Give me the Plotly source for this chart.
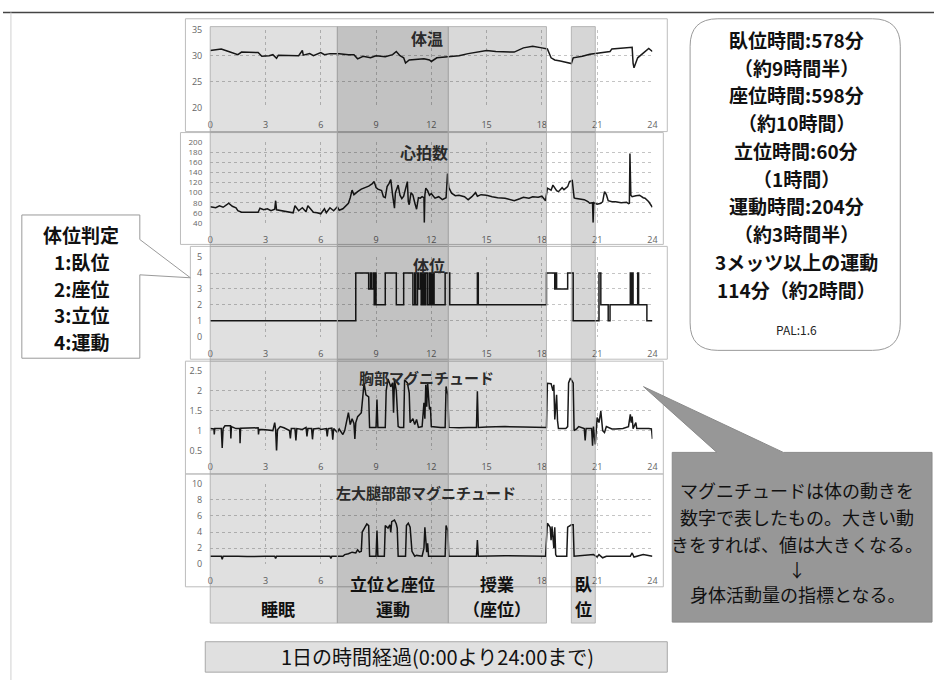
import plotly.graph_objects as go

W, H = 939, 686
JP = "Noto Sans CJK JP"

# ---------------- data (hours, value) ----------------
body_temp = [(0,31.0),(0.3,31.2),(0.6,31.3),(1.0,30.8),(1.5,30.2),(1.7,30.7),(2.2,30.7),(2.6,30.6),(2.8,29.9),
             (3.2,30.0),(3.4,30.2),(3.6,29.5),(3.7,30.1),(4.2,30.0),(4.8,30.0),(5.0,31.0),(5.05,30.1),(5.4,30.4),
             (5.6,30.0),(6.0,30.6),(6.2,30.2),(6.5,30.4),(7.0,30.4),(7.5,30.2),(7.8,30.2),(8.0,29.4),(8.3,29.9),
             (8.7,29.6),(9.0,30.0),(9.5,29.8),(9.9,30.2),(10.1,30.8),(10.3,30.0),(10.5,29.6),(10.6,28.6),(10.8,29.2),
             (11.2,29.3),(11.6,29.4),(11.9,29.2),(12.0,28.9),(12.3,29.6),(12.8,29.8),(13.5,30.0),(14.0,30.4),
             (14.6,30.8),(15.0,31.0),(15.5,30.8),(16.0,30.8),(16.5,30.7),(17.0,31.5),(17.5,31.8),(18.0,31.5),
             (18.3,31.3),(18.5,29.6),(18.7,29.2),(19.0,29.0),(19.3,28.7),(19.6,28.5),(19.7,29.6),(20.2,29.9),
             (20.6,30.3),(21.0,30.5),(21.5,30.7),(21.7,30.8),(21.8,31.3),(22.3,31.5),(22.9,31.6),(22.95,28.6),
             (23.0,27.7),(23.2,29.6),(23.5,30.5),(23.8,31.4),(24.0,30.8)]

heart_rate = [(0,72),(0.3,70),(0.5,74),(0.7,71),(0.9,76),(1.0,79),(1.2,73),(1.4,70),(1.5,64),(1.7,61),(2.2,61),
              (2.6,61),(2.7,69),(2.9,66),(3.1,68),(3.3,64),(3.5,67),(3.55,84),(3.6,66),(3.9,64),(4.2,61),(4.5,60),
              (4.6,74),(4.8,64),(5.0,70),(5.2,62),(5.3,74),(5.5,64),(5.6,61),(5.8,60),(6.0,58),(6.2,68),(6.3,60),
              (6.5,70),(6.7,64),(6.9,72),(7.0,65),(7.2,68),(7.4,75),(7.5,79),(7.6,90),(7.7,105),(7.8,96),(7.9,100),
              (8.0,102),(8.2,107),(8.4,110),(8.6,113),(8.8,118),(8.9,122),(9.0,110),(9.1,107),(9.3,104),(9.4,92),
              (9.5,90),(9.6,112),(9.7,118),(9.8,126),(9.9,95),(10.0,69),(10.05,100),(10.2,115),(10.3,95),(10.4,88),
              (10.5,93),(10.6,110),(10.7,122),(10.75,82),(10.8,76),(10.9,100),(11.0,95),(11.1,80),(11.2,67),
              (11.3,90),(11.4,89),(11.5,92),(11.6,90),(11.62,40),(11.65,95),(11.7,109),(11.8,104),(11.9,95),
              (12.0,98),(12.2,89),(12.4,92),(12.6,86),(12.8,90),(12.88,138),(12.95,110),(13.1,99),(13.3,94),
              (13.5,95),(13.8,92),(14.0,86),(14.2,92),(14.4,100),(14.5,93),(14.7,96),(15.0,95),(15.3,92),(15.6,90),
              (16.0,89),(16.3,86),(16.5,84),(16.8,88),(17.0,91),(17.3,89),(17.5,92),(17.8,91),(18.0,93),(18.2,84),
              (18.3,109),(18.5,105),(18.6,115),(18.8,104),(18.9,102),(19.1,110),(19.2,106),(19.4,112),(19.5,122),
              (19.65,124),(19.75,90),(19.8,89),(20.0,88),(20.3,86),(20.5,82),(20.6,79),(20.75,80),(20.78,40),
              (20.82,80),(21.0,77),(21.2,79),(21.3,82),(21.4,102),(21.5,96),(21.6,84),(21.8,82),(22.0,82),
              (22.3,80),(22.6,81),(22.7,78),(22.75,79),(22.78,178),(22.83,95),(22.9,92),(23.1,94),(23.3,95),
              (23.5,90),(23.6,89),(23.8,82),(24.0,71)]

body_position = [(0,1),(7.9,4),(8.6,3),(8.7,4),(8.75,3),(8.85,4),(8.9,2),(8.95,4),(9.0,2),(9.5,4),(10.1,2),
                 (10.5,4),(11.0,2),(11.1,4),(11.15,2),(11.25,4),(11.3,3),(11.4,4),(11.45,2),(11.5,4),(11.55,2),
                 (11.6,4),(11.65,2),(11.7,4),(11.8,2),(11.9,4),(11.95,2),(12.0,4),(12.05,2),(12.1,4),(12.15,2),
                 (12.75,4),(13.0,2),(14.5,4),(14.55,2),(18.25,4),(18.7,3),(18.75,4),(18.8,3),(19.4,4),(19.7,1),
                 (21.1,4),(21.2,2),(21.6,1),(21.7,2),(22.8,4),(22.85,2),(22.9,4),(22.95,2),(23.2,4),(23.25,2),
                 (23.7,1),(24.0,1)]

chest_magnitude = [(0,1.05),(0.2,1.04),(0.22,0.9),(0.25,1.05),(0.6,1.05),(0.65,0.56),(0.7,1.05),(0.8,1.12),
                   (1.1,1.12),(1.12,0.8),(1.15,1.1),(1.4,1.05),(1.6,1.05),(1.62,0.68),(1.65,1.06),(2.0,1.07),
                   (2.6,1.07),(2.62,0.9),(2.65,1.03),(3.0,1.02),(3.4,1.0),(3.5,1.2),(3.55,1.02),(3.6,0.47),
                   (3.65,1.02),(3.8,1.1),(4.0,1.07),(4.3,1.0),(4.35,0.8),(4.4,1.05),(4.6,1.05),(4.65,0.75),
                   (4.7,1.05),(5.0,1.03),(5.2,1.08),(5.25,0.85),(5.3,1.05),(5.5,1.05),(5.55,0.78),(5.6,1.04),
                   (5.9,1.06),(6.0,1.03),(6.3,1.05),(6.35,0.85),(6.4,1.05),(6.6,1.06),(6.65,0.77),(6.7,1.05),
                   (6.9,0.95),(7.0,1.04),(7.2,0.9),(7.3,1.0),(7.5,1.45),(7.6,1.15),(7.7,1.3),(7.8,1.18),
                   (7.85,0.79),(7.9,1.2),(8.0,1.35),(8.1,1.4),(8.2,1.45),(8.3,1.95),(8.35,2.2),(8.45,1.9),
                   (8.6,1.85),(8.65,1.08),(9.0,1.08),(9.05,1.78),(9.1,1.08),(9.5,1.08),(9.55,2.0),(9.65,2.3),
                   (9.8,2.1),(9.9,2.2),(9.95,1.45),(10.0,2.28),(10.1,2.0),(10.2,1.1),(10.3,1.08),(10.5,1.08),
                   (10.55,2.28),(10.7,2.2),(10.8,1.95),(10.85,1.2),(11.0,1.3),(11.1,1.15),(11.2,1.28),(11.3,1.08),
                   (11.5,1.1),(11.6,1.7),(11.65,1.3),(11.7,2.15),(11.75,1.6),(11.8,2.2),(11.9,1.53),(11.95,1.6),
                   (12.0,1.1),(12.5,1.08),(12.75,1.08),(12.8,2.11),(12.9,1.9),(12.95,1.08),(13.5,1.07),(14.0,1.08),
                   (14.45,1.08),(14.5,1.99),(14.55,1.08),(15.0,1.09),(16.0,1.1),(17.0,1.09),(18.0,1.08),
                   (18.25,1.08),(18.3,2.19),(18.5,2.18),(18.6,2.0),(18.65,2.15),(18.7,1.28),(18.8,1.9),(18.85,1.25),
                   (18.9,1.05),(19.3,1.05),(19.4,1.1),(19.45,2.2),(19.55,2.32),(19.7,2.2),(19.75,1.0),(19.9,1.05),
                   (20.0,1.1),(20.3,1.05),(20.35,0.75),(20.4,1.05),(20.7,1.05),(20.75,0.62),(20.8,1.1),(20.9,0.65),
                   (20.95,1.05),(21.0,1.33),(21.1,1.2),(21.2,1.49),(21.3,1.0),(21.4,0.95),(21.5,1.1),(21.8,1.04),
                   (22.0,1.04),(22.4,1.05),(22.7,1.1),(22.8,1.41),(22.85,1.2),(22.9,1.35),(22.95,1.05),(23.1,1.2),
                   (23.15,1.05),(23.5,1.06),(23.8,1.05),(23.95,1.04),(24.0,0.79)]

thigh_magnitude = [(0,1.0),(0.6,1.0),(0.65,0.6),(0.7,1.0),(1.5,1.0),(2.0,0.95),(3.0,1.0),(3.5,1.0),(3.55,0.7),
                   (3.6,1.0),(6.5,1.0),(6.55,0.7),(6.6,1.0),(7.2,1.0),(7.3,1.2),(7.5,1.3),(7.7,1.5),(7.9,1.4),
                   (8.0,1.8),(8.1,1.5),(8.2,1.6),(8.25,4.0),(8.4,4.6),(8.5,5.0),(8.6,4.8),(8.65,1.0),(9.0,1.0),
                   (9.05,4.2),(9.1,1.0),(9.45,1.0),(9.5,4.8),(9.65,4.5),(9.75,4.9),(9.8,4.0),(9.85,5.3),(10.0,5.5),
                   (10.1,5.0),(10.15,4.5),(10.2,1.0),(10.6,1.0),(10.65,4.8),(10.75,5.1),(10.85,4.6),(10.95,1.6),
                   (11.1,1.0),(11.2,1.1),(11.5,1.0),(11.6,2.0),(11.65,4.6),(11.75,1.5),(11.8,2.6),(11.85,1.0),
                   (12.0,1.0),(12.75,1.0),(12.8,4.8),(12.9,4.2),(12.95,1.0),(14.45,1.0),(14.5,3.0),(14.55,1.0),
                   (16.0,1.05),(18.2,1.0),(18.3,5.1),(18.45,4.6),(18.5,3.0),(18.55,4.7),(18.65,2.0),(18.7,4.6),
                   (18.75,1.2),(18.8,1.0),(19.35,1.0),(19.4,4.6),(19.6,4.9),(19.7,4.9),(19.75,1.0),(20.5,1.1),
                   (20.8,1.2),(21.0,0.9),(21.1,1.2),(21.3,0.8),(21.5,1.0),(22.8,1.0),(22.9,1.4),(23.0,0.9),
                   (23.5,1.2),(24.0,1.0)]

panel_titles = ["体温", "心拍数", "体位", "胸部マグニチュード", "左大腿部部マグニチュード"]
y_ranges = [(20, 35), (40, 200), (0, 5), (0.5, 2.5), (0, 10)]
y_dticks = [5, 20, 1, 0.5, 2]
x_ticks = [0, 3, 6, 9, 12, 15, 18, 21, 24]
# on the bottom panel the 9/12/15 labels are hidden behind the period captions
x_ticks_hidden_bottom = [9, 12, 15]

# activity periods (start hour, end hour, darkness, label)
periods = [(0.0, 6.9, 0.12, "睡眠"),
           (6.9, 12.92, 0.24, "立位と座位<br>運動"),
           (12.92, 18.25, 0.15, "授業<br>（座位）"),
           (19.6, 20.9, 0.16, "臥<br>位")]

summary_lines = ["臥位時間:578分", "（約9時間半）", "座位時間:598分", "（約10時間）", "立位時間:60分",
                 "（1時間）", "運動時間:204分", "（約3時間半）", "3メッツ以上の運動", "114分（約2時間）"]
legend_lines = ["体位判定", "1:臥位", "2:座位", "3:立位", "4:運動"]
note_lines = ["マグニチュードは体の動きを", "数字で表したもの。大きい動", "きをすれば、値は大きくなる。",
              "↓", "身体活動量の指標となる。"]

# ---------------- helpers (pixel -> paper) ----------------
def px(x):
    return x / W

def py(y):
    return 1 - y / H

def P(x, y):
    return f"{px(x):.5f},{py(y):.5f}"

X0, X1 = 209, 655          # plot x extent in pixels (0h .. 24h)
def hx(h):
    return X0 + (X1 - X0) * h / 24

panel_rows = [(23, 103), (138, 220), (255, 336), (371, 452), (486, 568)]
panel_frames = [(184, 12, 670, 127), (179, 128, 666, 242), (189, 244, 670, 359),
                (184, 361, 666, 476), (184, 476, 666, 591)]
title_pos = [(428, 32, 16), (425, 148, 16), (430, 263, 16), (427, 378, 15), (427, 495, 15)]

series = [body_temp, heart_rate, body_position, chest_magnitude, thigh_magnitude]

fig = go.Figure()
layout = dict(width=W, height=H, autosize=False, margin=dict(l=0, r=0, t=0, b=0),
              paper_bgcolor="white", plot_bgcolor="rgba(0,0,0,0)", showlegend=False)

grid = dict(showgrid=True, gridcolor="#c4c4c4", griddash="dot", gridwidth=1, zeroline=False,
            showline=False, ticks="", fixedrange=True)

for i, (data, (top, bot), yr, dt) in enumerate(zip(series, panel_rows, y_ranges, y_dticks)):
    n = "" if i == 0 else str(i + 1)
    t = [p[0] for p in data]
    v = [p[1] for p in data]
    fig.add_trace(go.Scatter(x=t, y=v, mode="lines", xaxis="x" + n, yaxis="y" + n,
                             line=dict(color="#1a1a1a", width=1.5,
                                       shape="hv" if i == 2 else "linear"),
                             hoverinfo="skip"))
    if i == 4:
        ttext = ["" if h in x_ticks_hidden_bottom else str(h) for h in x_ticks]
    else:
        ttext = [str(h) for h in x_ticks]
    layout["xaxis" + n] = dict(grid, domain=[px(X0), px(X1)], range=[0, 24], tickvals=x_ticks,
                               ticktext=ttext, anchor="y" + n, ticklabelstandoff=10,
                               tickfont=dict(family="Open Sans", size=9, color="#666"))
    layout["yaxis" + n] = dict(grid, domain=[py(bot), py(top)], range=list(yr), dtick=dt,
                               tick0=yr[0], anchor="x" + n, ticklabelstandoff=7,
                               tickfont=dict(family="Open Sans", size=8 if i == 1 else 9, color="#666"))

shapes = []
annotations = []

def note(x, y, text, size, color="#111"):
    annotations.append(dict(xref="paper", yref="paper", x=px(x), y=py(y), text=text, showarrow=False,
                            xanchor="center", yanchor="middle", borderpad=0,
                            font=dict(family=JP, size=size, color=color)))

# page rules
shapes.append(dict(type="line", xref="paper", yref="paper", x0=0, x1=1, y0=py(5.5), y1=py(5.5),
                   line=dict(color="#444", width=1.5)))
shapes.append(dict(type="line", xref="paper", yref="paper", x0=px(8), x1=px(8), y0=py(5.5), y1=0,
                   line=dict(color="#d0d0d0", width=1)))

# panel frames
for (a, b, c, d) in panel_frames:
    shapes.append(dict(type="rect", xref="paper", yref="paper", x0=px(a), x1=px(c), y0=py(d), y1=py(b),
                       line=dict(color="#bdbdbd", width=1)))

# activity bands (translucent grey over everything, as in a photocopy)
for (h0, h1, dark, lab) in periods:
    shapes.append(dict(type="rect", xref="paper", yref="paper", x0=px(hx(h0)), x1=px(hx(h1)),
                       y0=py(628), y1=py(20), fillcolor=f"rgba(0,0,0,{dark})",
                       line=dict(color="#a8a8a8", width=0.8), layer="above"))
    cx = (hx(h0) + hx(h1)) / 2
    if "<br>" in lab:
        a, b = lab.split("<br>")
        note(cx, 588, f"<b>{a}</b>", 17)
        note(cx, 613, f"<b>{b}</b>", 17)
    else:
        note(cx + 4, 613, f"<b>{lab}</b>", 17)

# panel titles
for title, (tx, ty, fs) in zip(panel_titles, title_pos):
    note(tx, ty, f"<b>{title}</b>", fs, "#2a2a2a")

# left legend callout
path = (f"M {P(19,212)} L {P(138,212)} L {P(138,237)} L {P(189,276)} L {P(138,273)} "
        f"L {P(138,358)} L {P(19,358)} Z")
shapes.append(dict(type="path", xref="paper", yref="paper", path=path, fillcolor="white",
                   line=dict(color="#9a9a9a", width=1)))
for k, line in enumerate(legend_lines):
    note(79, 232 + 27.25 * k, f"<b>{line}</b>", 19)

# summary rounded box
x0, x1, y0, y1, r = 693, 905, 12, 350, 28
path = (f"M {P(x0+r,y0)} L {P(x1-r,y0)} Q {P(x1,y0)} {P(x1,y0+r)} L {P(x1,y1-r)} "
        f"Q {P(x1,y1)} {P(x1-r,y1)} L {P(x0+r,y1)} Q {P(x0,y1)} {P(x0,y1-r)} "
        f"L {P(x0,y0+r)} Q {P(x0,y0)} {P(x0+r,y0)} Z")
shapes.append(dict(type="path", xref="paper", yref="paper", path=path, fillcolor="white",
                   line=dict(color="#9a9a9a", width=1)))
for k, line in enumerate(summary_lines):
    note(800, 33 + 28.3 * k, f"<b>{line}</b>", 19)
note(800, 329, "PAL:1.6", 12, "#222")

# magnitude note callout
path = (f"M {P(675,454)} L {P(720,454)} L {P(646,387)} L {P(787,454)} L {P(937,454)} "
        f"L {P(937,627)} L {P(675,627)} Z")
shapes.append(dict(type="path", xref="paper", yref="paper", path=path, fillcolor="#979797",
                   line=dict(color="#8a8a8a", width=1)))
for line, yy in zip(note_lines, [492, 520, 547, 573, 598]):
    note(801, yy, line, 18)

# bottom axis caption
shapes.append(dict(type="rect", xref="paper", yref="paper", x0=px(204), x1=px(670), y0=py(678), y1=py(647),
                   fillcolor="#e0e0e0", line=dict(color="#a8a8a8", width=1)))
note(438, 662, "1日の時間経過(0:00より24:00まで)", 20)

layout["shapes"] = shapes
layout["annotations"] = annotations
fig.update_layout(**layout)
fig.write_html("out.html", config={"displayModeBar": False},
               post_script="document.body.style.margin='0px';document.body.style.overflow='hidden';")
